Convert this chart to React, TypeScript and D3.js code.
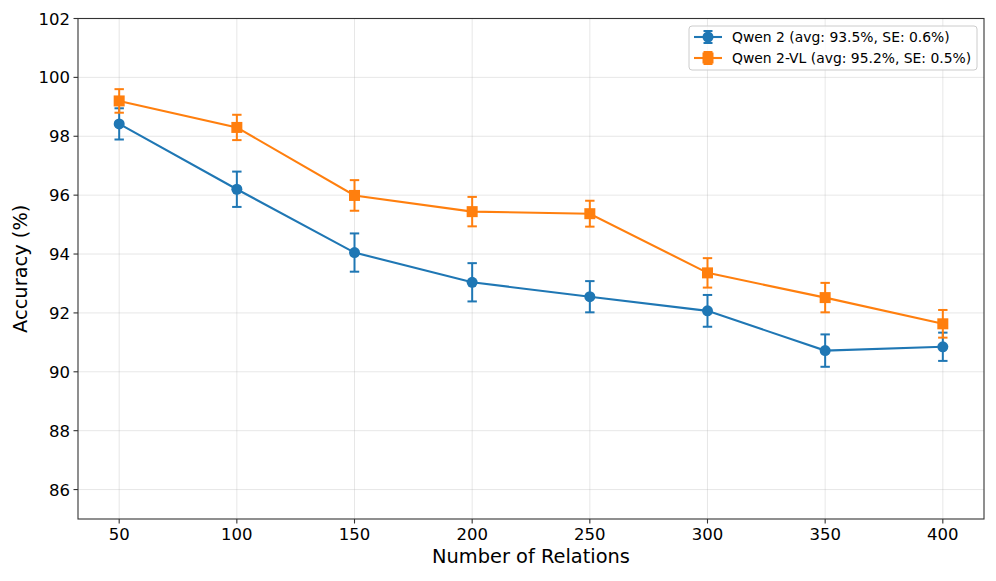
import React from 'react';
import * as d3 from 'd3';

const relations = [50, 100, 150, 200, 250, 300, 350, 400];
const qwen2 = [98.42, 96.2, 94.05, 93.04, 92.55, 92.07, 90.72, 90.85];
const qwen2Err = [0.53, 0.6, 0.65, 0.65, 0.53, 0.54, 0.55, 0.48];
const qwen2vl = [99.2, 98.3, 95.99, 95.44, 95.37, 93.36, 92.52, 91.63];
const qwen2vlErr = [0.4, 0.43, 0.52, 0.5, 0.44, 0.5, 0.5, 0.47];
const yTicks = [86, 88, 90, 92, 94, 96, 98, 100, 102];

const seriesList = [
  { name: 'Qwen 2 (avg: 93.5%, SE: 0.6%)', values: qwen2, errs: qwen2Err, color: '#1f77b4', marker: 'circle' },
  { name: 'Qwen 2-VL (avg: 95.2%, SE: 0.5%)', values: qwen2vl, errs: qwen2vlErr, color: '#ff7f0e', marker: 'square' },
];

const W = 996;
const H = 581;
const m = { left: 78, right: 984, top: 18.5, bottom: 519 };
const font = 'DejaVu Sans, sans-serif';

const App: React.FC = () => {
  const x = d3.scaleLinear().domain([32.5, 417.5]).range([m.left, m.right]);
  const y = d3.scaleLinear().domain([85, 102]).range([m.bottom, m.top]);
  const line = d3.line<number>().x((_d, i) => x(relations[i])).y(d => y(d));

  const drawMarker = (kind: string, cx: number, cy: number, color: string, key: string) =>
    kind === 'circle'
      ? <circle key={key} cx={cx} cy={cy} r={5.5} fill={color} />
      : <rect key={key} x={cx - 5.5} y={cy - 5.5} width={11} height={11} fill={color} />;

  return (
    <svg width={W} height={H} style={{ position: 'absolute', left: 0, top: 0, background: '#fff' }}>
      {/* grid */}
      <g stroke="#b0b0b0" strokeOpacity={0.3} strokeWidth={1}>
        {relations.map(r => <line key={'gx' + r} x1={x(r)} x2={x(r)} y1={m.top} y2={m.bottom} />)}
        {yTicks.map(t => <line key={'gy' + t} x1={m.left} x2={m.right} y1={y(t)} y2={y(t)} />)}
      </g>

      {/* series */}
      {seriesList.map(s => (
        <g key={s.name}>
          <path d={line(s.values) || ''} fill="none" stroke={s.color} strokeWidth={2.1} />
          {s.values.map((v, i) => {
            const cx = x(relations[i]);
            const y0 = y(v - s.errs[i]);
            const y1 = y(v + s.errs[i]);
            return (
              <g key={i} stroke={s.color} strokeWidth={2}>
                <line x1={cx} x2={cx} y1={y0} y2={y1} />
                <line x1={cx - 4.7} x2={cx + 4.7} y1={y0} y2={y0} />
                <line x1={cx - 4.7} x2={cx + 4.7} y1={y1} y2={y1} />
              </g>
            );
          })}
          {s.values.map((v, i) => drawMarker(s.marker, x(relations[i]), y(v), s.color, 'm' + i))}
        </g>
      ))}

      {/* spines */}
      <rect x={m.left} y={m.top} width={m.right - m.left} height={m.bottom - m.top} fill="none" stroke="#333" strokeWidth={1.1} />

      {/* x ticks */}
      {relations.map(r => (
        <g key={'xt' + r}>
          <line x1={x(r)} x2={x(r)} y1={m.bottom} y2={m.bottom + 4.5} stroke="#333" strokeWidth={1.1} />
          <text x={x(r)} y={m.bottom + 21} textAnchor="middle" fontFamily={font} fontSize={16.5} fill="#000">{r}</text>
        </g>
      ))}
      {/* y ticks */}
      {yTicks.map(t => (
        <g key={'yt' + t}>
          <line x1={m.left - 4.5} x2={m.left} y1={y(t)} y2={y(t)} stroke="#333" strokeWidth={1.1} />
          <text x={m.left - 8} y={y(t) + 6} textAnchor="end" fontFamily={font} fontSize={16.5} fill="#000">{t}</text>
        </g>
      ))}

      <text x={(m.left + m.right) / 2} y={563} textAnchor="middle" fontFamily={font} fontSize={19.4} fill="#000">Number of Relations</text>
      <text transform={`translate(27, ${(m.top + m.bottom) / 2}) rotate(-90)`} textAnchor="middle" fontFamily={font} fontSize={19.4} fill="#000">Accuracy (%)</text>

      {/* legend */}
      <g>
        <rect x={689} y={26} width={288} height={44} rx={3} fill="#fff" fillOpacity={0.8} stroke="#ccc" strokeWidth={1} />
        {seriesList.map((s, i) => {
          const ly = 37 + i * 21;
          return (
            <g key={'lg' + i}>
              <line x1={694} x2={722} y1={ly} y2={ly} stroke={s.color} strokeWidth={2.1} />
              <line x1={708} x2={708} y1={ly - 6} y2={ly + 6} stroke={s.color} strokeWidth={2} />
              <line x1={703.5} x2={712.5} y1={ly - 6} y2={ly - 6} stroke={s.color} strokeWidth={2} />
              <line x1={703.5} x2={712.5} y1={ly + 6} y2={ly + 6} stroke={s.color} strokeWidth={2} />
              {drawMarker(s.marker, 708, ly, s.color, 'lm' + i)}
              <text x={732} y={ly + 5} fontFamily={font} fontSize={13.9} fill="#000">{s.name}</text>
            </g>
          );
        })}
      </g>
    </svg>
  );
};

export default App;
